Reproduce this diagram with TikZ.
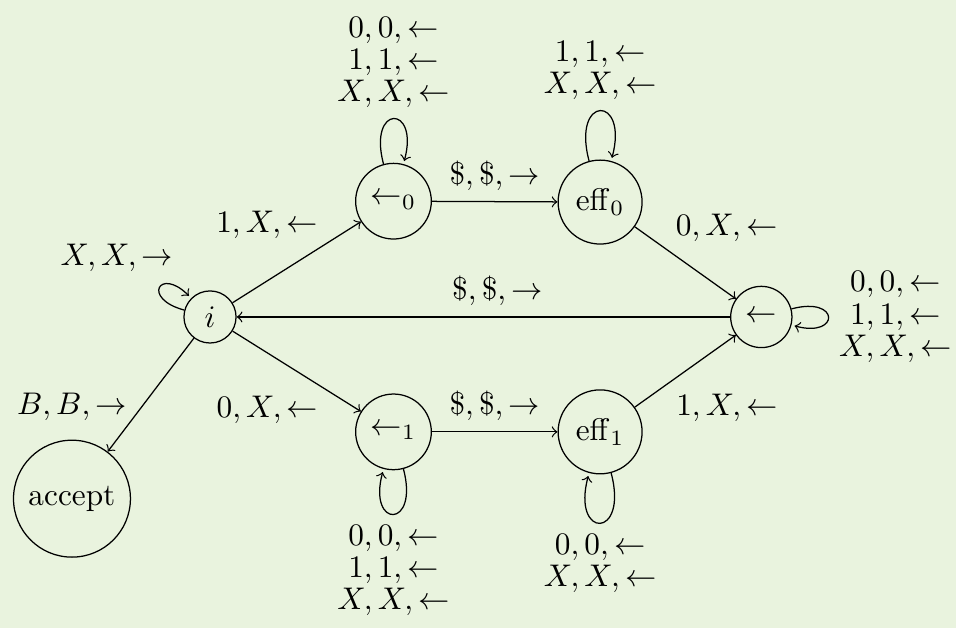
\documentclass[tikz,border=0pt]{standalone}
\definecolor{bgcol}{RGB}{233,243,222}
\begin{document}
\begin{tikzpicture}[>=to, state/.style={circle, draw}, lbl/.style={align=center, font=\linespread{0.86}\selectfont}]
\fill[bgcol] (-2.358,-3.492) rectangle (8.376,3.559);
\useasboundingbox (-2.358,-3.492) rectangle (8.376,3.559);
\node[state] (i) at (0,0) {$i$};
\node[state] (l0) at (2.06,1.30) {$\leftarrow_0$};
\node[state] (e0) at (4.38,1.29) {$\mathrm{eff}_0$};
\node[state] (back) at (6.19,0) {$\leftarrow$};
\node[state] (l1) at (2.06,-1.29) {$\leftarrow_1$};
\node[state] (e1) at (4.38,-1.29) {$\mathrm{eff}_1$};
\node[state] (acc) at (-1.55,-2.04) {accept};
\draw[->] (i) edge[out=165, in=135, loop] node[lbl, xshift=-13.7pt, yshift=9.6pt] {$X,X,\rightarrow$} (i)
  (i) edge node[lbl, xshift=-9.5pt, yshift=12.1pt] {$1,X,\leftarrow$} (l0)
  (i) edge node[lbl, xshift=-9.4pt, yshift=-12.4pt] {$0,X,\leftarrow$} (l1)
  (i) edge node[lbl, xshift=-25.2pt, yshift=-3.8pt] {$B,B,\rightarrow$} (acc)
  (l0) edge[loop above] node[lbl, above] {$0,0,\leftarrow$\\$1,1,\leftarrow$\\$X,X,\leftarrow$} (l0)
  (l0) edge node[lbl, above] {$\$,\$,\rightarrow$} (e0)
  (e0) edge[loop above] node[lbl, above] {$1,1,\leftarrow$\\$X,X,\leftarrow$} (e0)
  (e0) edge node[lbl, xshift=13.2pt, yshift=11.3pt] {$0,X,\leftarrow$} (back)
  (l1) edge[loop below] node[lbl, below] {$0,0,\leftarrow$\\$1,1,\leftarrow$\\$X,X,\leftarrow$} (l1)
  (l1) edge node[lbl, above] {$\$,\$,\rightarrow$} (e1)
  (e1) edge[loop below] node[lbl, below] {$0,0,\leftarrow$\\$X,X,\leftarrow$} (e1)
  (e1) edge node[lbl, xshift=13.3pt, yshift=-11.7pt] {$1,X,\leftarrow$} (back)
  (back) edge[loop right] node[lbl, right] {$0,0,\leftarrow$\\$1,1,\leftarrow$\\$X,X,\leftarrow$} (back)
  (back) edge node[lbl, above, xshift=4.5pt] {$\$,\$,\rightarrow$} (i);
\end{tikzpicture}
\end{document}
